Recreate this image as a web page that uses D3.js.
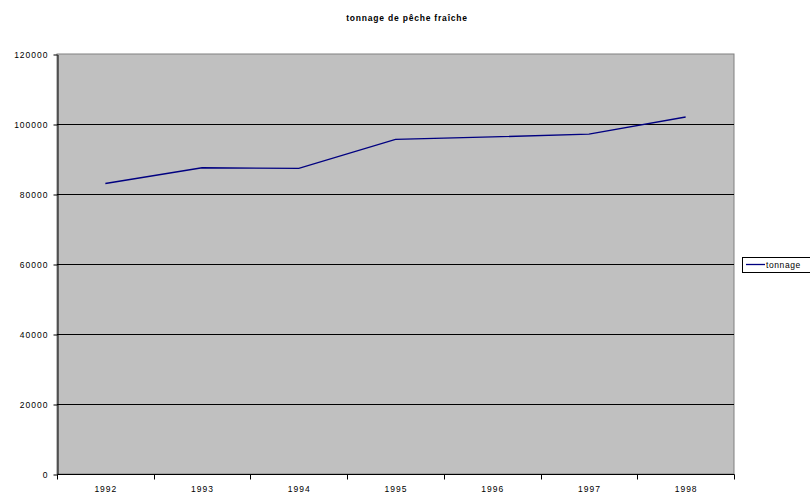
<!DOCTYPE html>
<html><head><meta charset="utf-8">
<script src="https://cdn.jsdelivr.net/npm/d3@7"></script>
<style>body{margin:0;background:#fff}svg{display:block;font-family:"Liberation Sans",Arial,sans-serif}</style>
</head><body>
<script>
const title = "tonnage de pêche fraîche";
const years = ["1992","1993","1994","1995","1996","1997","1998"];
const tonnage = [83000, 87500, 87300, 95600, 96300, 97100, 102000];
const yTicks = [0, 20000, 40000, 60000, 80000, 100000, 120000];
const seriesName = "tonnage";

const W = 810, H = 493;
const m = {left: 57, right: 76, top: 54, bottom: 18};
const svg = d3.select("body").append("svg").attr("width", W).attr("height", H);

const x = d3.scaleBand().domain(years).range([m.left, W - m.right]).padding(0);
const y = d3.scaleLinear().domain([0, 120000]).range([H - m.bottom - 1, m.top]);

// plot background
svg.append("rect").attr("x", m.left).attr("y", m.top)
  .attr("width", W - m.right - m.left).attr("height", y(0) - m.top)
  .attr("fill", "#c0c0c0").attr("stroke", "#808080").attr("stroke-width", 1);

// gridlines
svg.append("g").selectAll("line").data(yTicks.filter(d => d > 0 && d < 120000)).join("line")
  .attr("x1", m.left).attr("x2", W - m.right)
  .attr("y1", d => Math.round(y(d)) + 0.5).attr("y2", d => Math.round(y(d)) + 0.5)
  .attr("stroke", "#000").attr("stroke-width", 1);

// y axis
const yAxis = svg.append("g").attr("transform", `translate(${m.left + 0.5},0.5)`)
  .call(d3.axisLeft(y).tickValues(yTicks).tickFormat(d => d).tickSize(4).tickSizeOuter(0));
yAxis.select(".domain").attr("stroke", "#000");
yAxis.selectAll("text").attr("font-size", "8.5px").attr("letter-spacing", "1px").attr("fill", "#000")
  .attr("x", -9).attr("font-family", "Liberation Sans, Arial, sans-serif");

// x axis
const xAxis = svg.append("g").attr("transform", `translate(0.5,${Math.round(y(0)) + 0.5})`);
xAxis.append("line").attr("x1", m.left).attr("x2", W - m.right).attr("stroke", "#000");
const bounds = years.map(d => x(d)).concat([x(years[years.length - 1]) + x.bandwidth()]);
xAxis.selectAll("line.t").data(bounds).join("line").attr("class", "t")
  .attr("x1", d => Math.round(d)).attr("x2", d => Math.round(d)).attr("y1", 0).attr("y2", 5).attr("stroke", "#000");
xAxis.selectAll("text").data(years).join("text")
  .attr("x", d => x(d) + x.bandwidth() / 2).attr("y", 17)
  .attr("text-anchor", "middle").attr("font-size", "8.5px").attr("letter-spacing", "1px").text(d => d);

// line
const line = d3.line().x((d, i) => x(years[i]) + x.bandwidth() / 2).y(d => y(d));
svg.append("path").datum(tonnage).attr("d", line)
  .attr("fill", "none").attr("stroke", "#000080").attr("stroke-width", 1.3);

// title
svg.append("text").attr("x", 407).attr("y", 21).attr("text-anchor", "middle")
  .attr("font-size", "8.5px").attr("font-weight", "bold").attr("letter-spacing", "0.8px").text(title);

// legend
const lg = svg.append("g");
lg.append("rect").attr("x", 742.5).attr("y", 257.5).attr("width", 80).attr("height", 15)
  .attr("fill", "#fff").attr("stroke", "#000");
lg.append("line").attr("x1", 746).attr("x2", 765).attr("y1", 264.5).attr("y2", 264.5)
  .attr("stroke", "#000080").attr("stroke-width", 1.3);
lg.append("text").attr("x", 766).attr("y", 267.5).attr("font-size", "8.5px")
  .attr("letter-spacing", "0.6px").text(seriesName);
</script>
</body></html>
